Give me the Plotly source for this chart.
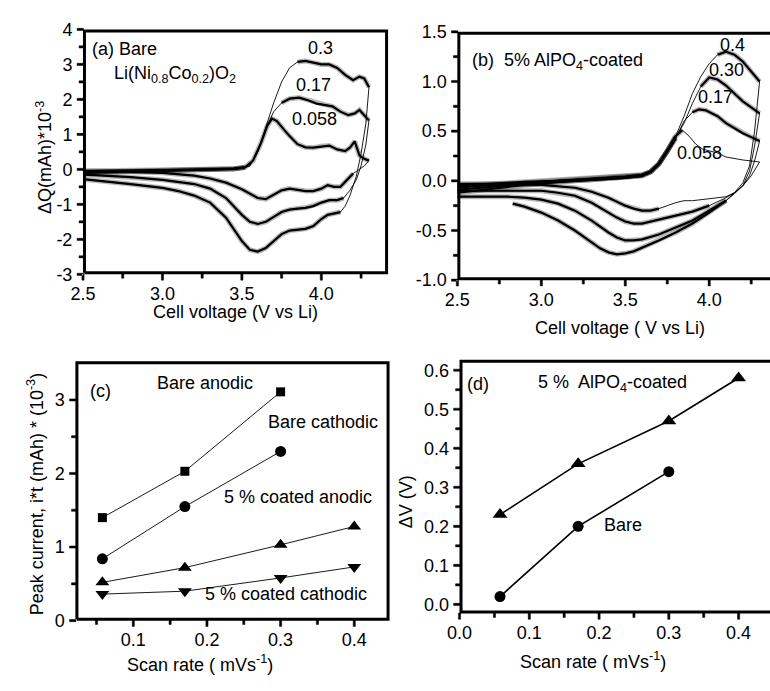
import plotly.graph_objects as go

# ---------------- DATA ----------------
# Panel (a): bare Li(Ni0.8Co0.2)O2, dQ (mAh*1e-3) vs cell voltage, scan rates 0.058 / 0.17 / 0.3
A_AN_V_058 = [2.5, 2.7, 2.9, 3.1, 3.3, 3.45, 3.52, 3.57, 3.62, 3.66, 3.69, 3.72, 3.76, 3.8, 3.85, 3.9, 3.95, 4.0, 4.05, 4.1, 4.15, 4.18, 4.21, 4.24, 4.27, 4.3]
A_AN_Q_058 = [-0.05, -0.04, -0.03, -0.02, -0.01, 0.02, 0.06, 0.25, 0.75, 1.25, 1.45, 1.38, 1.15, 0.95, 0.72, 0.63, 0.62, 0.66, 0.68, 0.57, 0.52, 0.62, 0.8, 0.4, 0.3, 0.25]
A_AN_V_17 = [2.5, 2.7, 2.9, 3.1, 3.3, 3.45, 3.52, 3.55, 3.6, 3.65, 3.7, 3.75, 3.8, 3.86, 3.92, 3.97, 4.02, 4.07, 4.12, 4.17, 4.21, 4.24, 4.27, 4.3]
A_AN_Q_17 = [-0.08, -0.06, -0.04, -0.03, -0.01, 0.02, 0.06, 0.1, 0.5, 1.15, 1.65, 1.9, 2.02, 2.05, 1.97, 1.88, 1.85, 1.8, 1.65, 1.55, 1.6, 1.7, 1.55, 1.4]
A_AN_V_3 = [2.5, 2.7, 2.9, 3.1, 3.3, 3.45, 3.52, 3.55, 3.6, 3.65, 3.7, 3.75, 3.8, 3.85, 3.9, 3.95, 4.0, 4.05, 4.1, 4.15, 4.2, 4.24, 4.27, 4.3]
A_AN_Q_3 = [-0.1, -0.08, -0.06, -0.04, -0.02, 0.01, 0.05, 0.1, 0.5, 1.2, 1.9, 2.5, 2.9, 3.07, 3.1, 3.05, 3.0, 3.0, 2.9, 2.7, 2.55, 2.65, 2.6, 2.35]
A_CA_V_058 = [4.3, 4.27, 4.24, 4.2, 4.16, 4.12, 4.08, 4.04, 4.0, 3.95, 3.9, 3.85, 3.8, 3.75, 3.7, 3.65, 3.6, 3.55, 3.5, 3.4, 3.3, 3.2, 3.0, 2.8, 2.6, 2.5]
A_CA_Q_058 = [0.25, 0.1, 0.0, -0.12, -0.3, -0.5, -0.5, -0.45, -0.55, -0.62, -0.62, -0.58, -0.55, -0.6, -0.72, -0.85, -0.82, -0.7, -0.57, -0.38, -0.26, -0.18, -0.1, -0.07, -0.05, -0.05]
A_CA_V_17 = [4.3, 4.28, 4.25, 4.22, 4.18, 4.14, 4.1, 4.05, 4.0, 3.95, 3.9, 3.85, 3.8, 3.75, 3.7, 3.65, 3.6, 3.55, 3.5, 3.45, 3.4, 3.3, 3.2, 3.0, 2.8, 2.6, 2.5]
A_CA_Q_17 = [1.4, 0.7, 0.1, -0.3, -0.6, -0.82, -0.88, -0.88, -0.95, -1.05, -1.1, -1.12, -1.15, -1.22, -1.35, -1.5, -1.56, -1.5, -1.3, -1.05, -0.82, -0.55, -0.42, -0.3, -0.22, -0.17, -0.15]
A_CA_V_3 = [4.3, 4.28, 4.25, 4.22, 4.18, 4.15, 4.12, 4.08, 4.04, 4.0, 3.95, 3.9, 3.85, 3.8, 3.75, 3.7, 3.65, 3.6, 3.55, 3.5, 3.45, 3.4, 3.3, 3.2, 3.1, 3.0, 2.8, 2.6, 2.5]
A_CA_Q_3 = [2.35, 1.3, 0.45, -0.2, -0.75, -1.05, -1.22, -1.27, -1.3, -1.42, -1.62, -1.7, -1.72, -1.75, -1.85, -2.05, -2.25, -2.35, -2.3, -2.05, -1.7, -1.38, -0.95, -0.75, -0.62, -0.53, -0.42, -0.33, -0.28]

# Panel (b): 5% AlPO4-coated, scan rates 0.058 / 0.17 / 0.30 / 0.4
B_AN_V_058 = [2.5, 2.7, 2.9, 3.1, 3.3, 3.5, 3.6, 3.65, 3.7, 3.75, 3.8, 3.84, 3.88, 3.92, 3.96, 4.0, 4.05, 4.1, 4.2, 4.3]
B_AN_Q_058 = [-0.05, -0.03, -0.01, 0.0, 0.02, 0.04, 0.06, 0.09, 0.17, 0.3, 0.45, 0.51, 0.45, 0.37, 0.32, 0.3, 0.28, 0.24, 0.21, 0.19]
B_AN_V_17 = [2.5, 2.7, 2.9, 3.1, 3.3, 3.5, 3.6, 3.65, 3.7, 3.75, 3.8, 3.85, 3.9, 3.94, 3.98, 4.05, 4.1, 4.15, 4.2, 4.25, 4.3]
B_AN_Q_17 = [-0.07, -0.04, -0.02, 0.0, 0.02, 0.04, 0.06, 0.09, 0.17, 0.3, 0.43, 0.6, 0.69, 0.72, 0.71, 0.65, 0.58, 0.53, 0.48, 0.44, 0.4]
B_AN_V_30 = [2.5, 2.7, 2.9, 3.1, 3.3, 3.5, 3.6, 3.65, 3.7, 3.75, 3.8, 3.85, 3.9, 3.95, 4.0, 4.05, 4.1, 4.15, 4.2, 4.25, 4.3]
B_AN_Q_30 = [-0.09, -0.06, -0.03, -0.01, 0.01, 0.03, 0.05, 0.09, 0.17, 0.3, 0.43, 0.58, 0.78, 0.95, 1.04, 1.02, 0.96, 0.88, 0.8, 0.74, 0.68]
B_AN_V_4 = [2.5, 2.7, 2.9, 3.1, 3.3, 3.5, 3.6, 3.65, 3.7, 3.75, 3.8, 3.85, 3.9, 3.95, 4.0, 4.05, 4.1, 4.15, 4.2, 4.25, 4.3]
B_AN_Q_4 = [-0.12, -0.08, -0.04, -0.01, 0.01, 0.03, 0.05, 0.09, 0.17, 0.3, 0.45, 0.65, 0.88, 1.05, 1.18, 1.27, 1.3, 1.27, 1.2, 1.1, 1.0]
B_CA_V_058 = [4.3, 4.25, 4.2, 4.15, 4.1, 4.0, 3.9, 3.85, 3.8, 3.75, 3.7, 3.65, 3.6, 3.55, 3.5, 3.4, 3.3, 3.2, 3.0, 2.8, 2.6, 2.5]
B_CA_Q_058 = [0.19, 0.05, -0.05, -0.12, -0.16, -0.18, -0.2, -0.2, -0.22, -0.25, -0.28, -0.3, -0.3, -0.28, -0.25, -0.17, -0.11, -0.07, -0.04, -0.03, -0.03, -0.03]
B_CA_V_17 = [4.3, 4.27, 4.24, 4.2, 4.15, 4.1, 4.0, 3.9, 3.8, 3.7, 3.6, 3.55, 3.5, 3.45, 3.4, 3.3, 3.2, 3.1, 3.0, 2.8, 2.6, 2.5]
B_CA_Q_17 = [0.4, 0.2, 0.05, -0.05, -0.12, -0.17, -0.25, -0.31, -0.35, -0.39, -0.43, -0.43, -0.41, -0.37, -0.32, -0.22, -0.15, -0.12, -0.1, -0.1, -0.1, -0.1]
B_CA_V_30 = [4.3, 4.27, 4.24, 4.2, 4.15, 4.1, 4.0, 3.9, 3.8, 3.7, 3.6, 3.55, 3.5, 3.45, 3.4, 3.3, 3.2, 3.1, 3.0, 2.9, 2.8, 2.6, 2.5]
B_CA_Q_30 = [0.68, 0.35, 0.1, -0.05, -0.13, -0.2, -0.3, -0.4, -0.47, -0.54, -0.59, -0.6, -0.6, -0.57, -0.52, -0.4, -0.3, -0.23, -0.19, -0.17, -0.16, -0.16, -0.16]
B_CA_V_4 = [4.3, 4.27, 4.24, 4.2, 4.15, 4.1, 4.0, 3.9, 3.8, 3.7, 3.6, 3.55, 3.5, 3.45, 3.4, 3.35, 3.3, 3.2, 3.1, 3.0, 2.9, 2.83]
B_CA_Q_4 = [1.0, 0.5, 0.15, -0.02, -0.12, -0.2, -0.32, -0.43, -0.52, -0.6, -0.67, -0.71, -0.73, -0.74, -0.72, -0.68, -0.62, -0.5, -0.4, -0.32, -0.26, -0.23]

# Panel (c): peak current vs scan rate
C_RATE_BARE = [0.058, 0.17, 0.3]
C_BARE_ANODIC = [1.40, 2.03, 3.11]
C_BARE_CATHODIC = [0.84, 1.55, 2.30]
C_RATE_COAT = [0.058, 0.17, 0.3, 0.4]
C_COAT_ANODIC = [0.52, 0.72, 1.03, 1.28]
C_COAT_CATHODIC = [0.36, 0.40, 0.58, 0.73]

# Panel (d): delta V vs scan rate
D_RATE_COAT = [0.058, 0.17, 0.3, 0.4]
D_COAT = [0.23, 0.36, 0.47, 0.58]
D_RATE_BARE = [0.058, 0.17, 0.3]
D_BARE = [0.02, 0.20, 0.34]

# Tick labels
A_XTICKS = [2.5, 3.0, 3.5, 4.0]
A_XTEXT = ["2.5", "3.0", "3.5", "4.0"]
A_XMINOR = [2.75, 3.25, 3.75, 4.25]
A_YTICKS = [4, 3, 2, 1, 0, -1, -2, -3]
A_YTEXT = ["4", "3", "2", "1", "0", "-1", "-2", "-3"]
A_YMINOR = [3.5, 2.5, 1.5, 0.5, -0.5, -1.5, -2.5]
B_YTICKS = [1.5, 1.0, 0.5, 0.0, -0.5, -1.0]
B_YTEXT = ["1.5", "1.0", "0.5", "0.0", "-0.5", "-1.0"]
B_YMINOR = [1.25, 0.75, 0.25, -0.25, -0.75]
C_XTICKS = [0.1, 0.2, 0.3, 0.4]
C_XTEXT = ["0.1", "0.2", "0.3", "0.4"]
C_XMINOR = [0.05, 0.15, 0.25, 0.35]
C_YTICKS = [0, 1, 2, 3]
C_YTEXT = ["0", "1", "2", "3"]
C_YMINOR = [0.5, 1.5, 2.5]
D_XTICKS = [0.0, 0.1, 0.2, 0.3, 0.4]
D_XTEXT = ["0.0", "0.1", "0.2", "0.3", "0.4"]
D_XMINOR = [0.05, 0.15, 0.25, 0.35]
D_YTICKS = [0.0, 0.1, 0.2, 0.3, 0.4, 0.5, 0.6]
D_YTEXT = ["0.0", "0.1", "0.2", "0.3", "0.4", "0.5", "0.6"]
D_YMINOR = [0.05, 0.15, 0.25, 0.35, 0.45, 0.55]

# ---------------- STYLE / LAYOUT ----------------
W, H = 770, 691
FONT = "Liberation Sans, Arial, Helvetica, sans-serif"
FS = 18
BLACK = "#000000"

# panel boxes in pixels (outer frame edges) and axis ranges
BOX = {
    "a": dict(l=71.2, r=381.5, t=20.0, b=272.2, xr=[2.5, 4.42], yr=[-3.0, 4.0], closed=True),
    "b": dict(l=452.0, r=770.0, t=22.5, b=278.2, xr=[2.5, 4.362], yr=[-1.0, 1.5], closed=False),
    "c": dict(l=63.5, r=383.0, t=361.8, b=628.8, xr=[0.0214, 0.4479], yr=[0.0, 3.525], closed=True),
    "d": dict(l=454.2, r=770.0, t=360.2, b=621.5, xr=[0.0, 0.445], yr=[-0.0234, 0.6267], closed=False),
}
LW = 3
TW = 2.2
TL_MAJ, TL_MIN = 6, 4


def px(x):
    return x / W


def py(y):
    return 1 - y / H


def xpix(key, x):
    bx = BOX[key]
    x0, x1 = bx["xr"]
    return bx["l"] + (x - x0) / (x1 - x0) * (bx["r"] - bx["l"])


def ypix(key, y):
    bx = BOX[key]
    y0, y1 = bx["yr"]
    return bx["b"] - (y - y0) / (y1 - y0) * (bx["b"] - bx["t"])


def window(v, q, wins):
    out = []
    for vi, qi in zip(v, q):
        ok = any(lo <= vi <= hi for lo, hi in wins)
        out.append(qi if ok else None)
    return out


fig = go.Figure()


def cv(v, q, wins, xa, ya):
    fig.add_trace(go.Scatter(x=v, y=q, mode="lines", xaxis=xa, yaxis=ya,
                             line=dict(color=BLACK, width=0.9), showlegend=False, hoverinfo="skip"))
    qb = window(v, q, wins)
    fig.add_trace(go.Scatter(x=v, y=qb, mode="lines", xaxis=xa, yaxis=ya,
                             line=dict(color="rgba(0,0,0,0.28)", width=5), showlegend=False,
                             hoverinfo="skip", connectgaps=False))
    fig.add_trace(go.Scatter(x=v, y=qb, mode="lines", xaxis=xa, yaxis=ya,
                             line=dict(color=BLACK, width=2.2), showlegend=False,
                             hoverinfo="skip", connectgaps=False))


# panel a
cv(A_AN_V_058, A_AN_Q_058, [(2.5, 4.3)], "x", "y")
cv(A_AN_V_17, A_AN_Q_17, [(2.5, 3.53), (3.74, 4.3)], "x", "y")
cv(A_AN_V_3, A_AN_Q_3, [(2.5, 3.53), (3.84, 4.3)], "x", "y")
cv(A_CA_V_058, A_CA_Q_058, [(2.5, 4.22)], "x", "y")
cv(A_CA_V_17, A_CA_Q_17, [(2.5, 4.14)], "x", "y")
cv(A_CA_V_3, A_CA_Q_3, [(2.5, 4.12)], "x", "y")

# panel b
cv(B_AN_V_058, B_AN_Q_058, [(2.5, 3.86)], "x2", "y2")
cv(B_AN_V_17, B_AN_Q_17, [(2.5, 3.8), (3.9, 4.3)], "x2", "y2")
cv(B_AN_V_30, B_AN_Q_30, [(2.5, 3.8), (3.95, 4.3)], "x2", "y2")
cv(B_AN_V_4, B_AN_Q_4, [(2.5, 3.8), (4.05, 4.3)], "x2", "y2")
cv(B_CA_V_058, B_CA_Q_058, [(2.5, 3.7)], "x2", "y2")
cv(B_CA_V_17, B_CA_Q_17, [(2.5, 4.05)], "x2", "y2")
cv(B_CA_V_30, B_CA_Q_30, [(2.5, 4.1)], "x2", "y2")
cv(B_CA_V_4, B_CA_Q_4, [(2.5, 4.1)], "x2", "y2")


def ms(x, y, sym, size, xa, ya, lw):
    fig.add_trace(go.Scatter(x=x, y=y, mode="lines+markers", xaxis=xa, yaxis=ya,
                             line=dict(color=BLACK, width=lw),
                             marker=dict(symbol=sym, size=size, color=BLACK, line=dict(width=0)),
                             showlegend=False, hoverinfo="skip", cliponaxis=False))


# panel c
ms(C_RATE_BARE, C_BARE_ANODIC, "square", 9, "x3", "y3", 0.9)
ms(C_RATE_BARE, C_BARE_CATHODIC, "circle", 11, "x3", "y3", 0.9)
ms(C_RATE_COAT, C_COAT_ANODIC, "triangle-up", 12, "x3", "y3", 0.9)
ms(C_RATE_COAT, C_COAT_CATHODIC, "triangle-down", 12, "x3", "y3", 0.9)

# panel d
ms(D_RATE_COAT, D_COAT, "triangle-up", 13, "x4", "y4", 1.6)
ms(D_RATE_BARE, D_BARE, "circle", 11, "x4", "y4", 1.6)


# ---- frames and tick marks on a full-page overlay axis pair (pixel units) ----
def frame_and_ticks(key, xmaj, xmin, ymaj, ymin):
    bx = BOX[key]
    h = LW / 2.0
    l, r, t, b = bx["l"] + h, bx["r"] - h, bx["t"] + h, bx["b"] - h
    if bx["closed"]:
        fx, fy = [l, r, r, l, l], [b, b, t, t, b]
    else:
        fx, fy = [W + 20, l, l, W + 20], [b, b, t, t]
    fig.add_trace(go.Scatter(x=fx, y=fy, mode="lines", xaxis="x5", yaxis="y5",
                             line=dict(color=BLACK, width=LW), showlegend=False, hoverinfo="skip"))
    # ticks as small filled rectangles (polygons separated by None)
    tx, ty = [], []
    hw = TW / 2.0
    for vals, ln in ((xmaj, TL_MAJ), (xmin, TL_MIN)):
        for v in vals:
            xp = xpix(key, v)
            y_in, y_out = bx["b"] - 0.5, bx["b"] + ln
            tx += [xp - hw, xp + hw, xp + hw, xp - hw, xp - hw, None]
            ty += [y_in, y_in, y_out, y_out, y_in, None]
    for vals, ln in ((ymaj, TL_MAJ), (ymin, TL_MIN)):
        for v in vals:
            yp = ypix(key, v)
            x_in, x_out = bx["l"] + 0.5, bx["l"] - ln
            tx += [x_in, x_out, x_out, x_in, x_in, None]
            ty += [yp - hw, yp - hw, yp + hw, yp + hw, yp - hw, None]
    fig.add_trace(go.Scatter(x=tx, y=ty, mode="lines", xaxis="x5", yaxis="y5",
                             fill="toself", fillcolor=BLACK,
                             line=dict(color=BLACK, width=0.5), showlegend=False,
                             hoverinfo="skip", connectgaps=False))


frame_and_ticks("a", A_XTICKS, A_XMINOR, A_YTICKS, A_YMINOR)
frame_and_ticks("b", A_XTICKS, A_XMINOR, B_YTICKS, B_YMINOR)
frame_and_ticks("c", C_XTICKS, C_XMINOR, C_YTICKS, C_YMINOR)
frame_and_ticks("d", D_XTICKS, D_XMINOR, D_YTICKS, D_YMINOR)


def axis(key, is_x, tv, tt, anchor):
    bx = BOX[key]
    if is_x:
        dom = [px(bx["l"]), min(1.0, px(bx["r"]))]
        rng = bx["xr"]
    else:
        dom = [py(bx["b"]), py(bx["t"])]
        rng = bx["yr"]
    d = dict(domain=dom, range=rng, anchor=anchor, tickmode="array", tickvals=tv, ticktext=tt,
             showgrid=False, zeroline=False, showline=False,
             ticks="outside", ticklen=TL_MAJ, tickwidth=2, tickcolor="rgba(0,0,0,0)",
             tickfont=dict(family=FONT, size=FS, color=BLACK), fixedrange=True)
    if is_x:
        d["ticklabelstandoff"] = -3
    return d


fig.update_layout(
    width=W, height=H, margin=dict(l=0, r=0, t=0, b=0),
    paper_bgcolor="white", plot_bgcolor="rgba(0,0,0,0)", showlegend=False,
    font=dict(family=FONT, size=FS, color=BLACK),
    xaxis=axis("a", True, A_XTICKS, A_XTEXT, "y"),
    yaxis=axis("a", False, A_YTICKS, A_YTEXT, "x"),
    xaxis2=axis("b", True, A_XTICKS, A_XTEXT, "y2"),
    yaxis2=axis("b", False, B_YTICKS, B_YTEXT, "x2"),
    xaxis3=axis("c", True, C_XTICKS, C_XTEXT, "y3"),
    yaxis3=axis("c", False, C_YTICKS, C_YTEXT, "x3"),
    xaxis4=axis("d", True, D_XTICKS, D_XTEXT, "y4"),
    yaxis4=axis("d", False, D_YTICKS, D_YTEXT, "x4"),
    xaxis5=dict(domain=[0, 1], range=[0, W], anchor="y5", visible=False, fixedrange=True),
    yaxis5=dict(domain=[0, 1], range=[H, 0], anchor="x5", visible=False, fixedrange=True),
)


def ann_p(text, x, y, xanchor="center", angle=0):
    fig.add_annotation(text=text, x=x, y=y, xref="paper", yref="paper", showarrow=False,
                       xanchor=xanchor, yanchor="middle", textangle=angle,
                       font=dict(family=FONT, size=FS, color=BLACK))


def ann(key, text, x, y, xanchor="center"):
    ann_p(text, px(xpix(key, x)), py(ypix(key, y)), xanchor=xanchor)


# panel a texts (positions in panel-a axis units)
ann("a", "(a) Bare", 2.546, 3.43, xanchor="left")
ann("a", "Li(Ni<sub>0.8</sub>Co<sub>0.2</sub>)O<sub>2</sub>", 2.68, 2.72, xanchor="left")
ann("a", "0.3", 3.994, 3.48)
ann("a", "0.17", 3.95, 2.41)
ann("a", "0.058", 3.96, 1.43)
# panel b texts
ann("b", "(b)  5% AlPO<sub>4</sub>-coated", 2.575, 1.2, xanchor="left")
ann("b", "0.4", 4.138, 1.37)
ann("b", "0.30", 4.10, 1.12)
ann("b", "0.17", 4.04, 0.845)
ann("b", "0.058", 3.94, 0.28)
# panel c texts
ann("c", "(c)", 0.055, 3.12)
ann("c", "Bare anodic", 0.197, 3.23)
ann("c", "Bare cathodic", 0.357, 2.70)
ann("c", "5 % coated anodic", 0.323, 1.68)
ann("c", "5 % coated cathodic", 0.307, 0.365)
# panel d texts
ann("d", "(d)", 0.027, 0.564)
ann("d", "5 %  AlPO<sub>4</sub>-coated", 0.2195, 0.566)
ann("d", "Bare", 0.234, 0.203)

# axis titles
ann_p("ΔQ(mAh)*10<sup>-3</sup>", px(32), py(152), angle=-90)
ann_p("Cell voltage (V vs Li)", px(226), py(311))
ann_p("Cell voltage ( V vs Li)", px(617.5), py(327))
ann_p("Peak current, i*t (mAh) * (10<sup>-3</sup>)", px(23), py(499), angle=-90)
ann_p("Scan rate ( mVs<sup>-1</sup>)", px(190), py(673))
ann_p("ΔV (V)", px(400), py(506.7), angle=-90)
ann_p("Scan rate ( mVs<sup>-1</sup>)", px(590), py(670))

fig.write_html("out.html")
